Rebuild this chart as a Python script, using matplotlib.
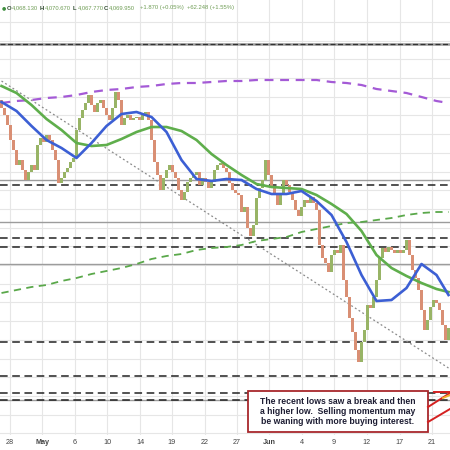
import matplotlib
matplotlib.use("Agg")
import matplotlib.pyplot as plt
from matplotlib.patches import Rectangle
from matplotlib.lines import Line2D
import numpy as np

# ---------------- data ----------------
first_open = 4100
closes = [4084, 4070, 4050, 4020, 4000, 3970, 3980, 3960, 3940, 3956,
          3970, 3960, 4010, 4024, 4016, 4030, 4020, 4000, 3980, 3934,
          3944, 3956, 3964, 3976, 3984, 4040, 4064, 4080, 4094, 4110,
          4090, 4076, 4094, 4100, 4084, 4070, 4060, 4084, 4116, 4100,
          4050, 4064, 4070, 4060, 4064, 4066, 4060, 4070, 4076, 4060,
          4020, 3976, 3950, 3920, 3944, 3960, 3970, 3956, 3944, 3920,
          3900, 3916, 3936, 3944, 3950, 3956, 3930, 3944, 3936, 3924,
          3936, 3960, 3970, 3974, 3964, 3956, 3934, 3920, 3914, 3910,
          3876, 3886, 3844, 3828, 3850, 3904, 3924, 3940, 3980, 3950,
          3926, 3910, 3890, 3910, 3940, 3930, 3916, 3900, 3880, 3868,
          3886, 3900, 3894, 3906, 3894, 3880, 3810, 3784, 3774, 3756,
          3790, 3800, 3794, 3810, 3740, 3706, 3664, 3636, 3600, 3576,
          3616, 3640, 3690, 3684, 3706, 3740, 3784, 3804, 3796, 3806,
          3800, 3794, 3800, 3794, 3800, 3820, 3790, 3760, 3744, 3720,
          3680, 3640, 3660, 3686, 3700, 3694, 3680, 3650, 3620, 3644]

ma_bars = [0, 5, 10, 15, 20, 25, 30, 35, 40, 45, 50, 55, 60, 65, 70, 75,
           80, 85, 90, 95, 100, 105, 110, 115, 120, 125, 130, 135, 140, 145, 149]
purple_ma = [4094, 4098, 4100, 4104, 4106, 4110, 4116, 4120, 4122, 4126,
             4128, 4132, 4134, 4134, 4136, 4138, 4138, 4140, 4140, 4140,
             4140, 4140, 4136, 4134, 4130, 4122, 4118, 4114, 4106, 4098, 4094]
green_dash_ma = [3714, 3720, 3726, 3730, 3738, 3744, 3752, 3758, 3764, 3772,
                 3782, 3788, 3792, 3800, 3804, 3806, 3810, 3818, 3822, 3826,
                 3836, 3842, 3848, 3854, 3856, 3860, 3864, 3870, 3874, 3876, 3876]
green_ma = [4128, 4114, 4090, 4062, 4040, 4014, 4008, 4010, 4022, 4036,
            4046, 4046, 4038, 4020, 3992, 3970, 3950, 3932, 3926, 3924,
            3922, 3910, 3892, 3872, 3838, 3790, 3764, 3748, 3734, 3722, 3716]
blue_ma = [4096, 4078, 4048, 4020, 4004, 3984, 4014, 4048, 4072, 4076,
           4066, 4036, 3980, 3942, 3938, 3942, 3940, 3922, 3912, 3912,
           3918, 3898, 3870, 3816, 3750, 3698, 3700, 3724, 3772, 3750, 3710]

trend_bars = [0, 149]
trend_vals = [4138, 3564]

top_level = 4212
solid_levels = [3940, 3856, 3772, 3500]
dashed_levels = [3930, 3824, 3806, 3616, 3548, 3514, 3500]

tick_pos = [2.8, 13.5, 24.5, 35.2, 46.2, 56.8, 67.8, 78.5, 89.2, 100.2,
            110.8, 121.8, 132.8, 143.5]
tick_labels = ["28", "May", "6", "10", "14", "19", "22", "27", "Jun", "4",
               "9", "12", "17", "21"]
bold_labels = ["May", "Jun"]

header = [("O", "4,068.130"), ("H", "4,070.670"), ("L", "4,067.770"), ("C", "4,069.950")]
header_changes = ["+1.870 (+0.05%)", "+62.248 (+1.55%)"]

note = ("The recent lows saw a break and then\n"
        "a higher low.  Selling momentum may\n"
        "be waning with more buying interest.")

# ---------------- figure ----------------
W = H = 450
fig = plt.figure(figsize=(4.5, 4.5), dpi=100)
ax = fig.add_axes([0, 15 / H, 1, 435 / H])
ax.set_xlim(-0.5, len(closes) - 0.5)
ax.set_ylim(3430, 4300)
for s in ax.spines.values():
    s.set_visible(False)

# grid
ax.set_yticks(np.arange(4256, 3430, -37.4))
ax.set_xticks(tick_pos)
ax.grid(True, color="#e6e6e6", lw=0.8, zorder=0)
ax.tick_params(axis="y", left=False, labelleft=False)
ax.tick_params(axis="x", length=0, pad=3, labelsize=5.2, labelcolor="#444444")
ax.set_xticklabels(tick_labels, family="Liberation Sans")
for lab in ax.get_xticklabels():
    if lab.get_text() in bold_labels:
        lab.set_fontweight("bold")

# horizontal levels
ax.axhline(top_level, color="#9a9a9a", lw=1.8, zorder=2)
ax.axhline(top_level, color="#333333", lw=0.9, ls=(0, (4, 2)), zorder=2)
for lv in solid_levels:
    ax.axhline(lv, color="#9c9c9c", lw=1.0, zorder=2)
for lv in dashed_levels:
    ax.axhline(lv, color="#222222", lw=1.1, ls=(0, (5, 3)), zorder=3)

# trend line
ax.plot(trend_bars, trend_vals, color="#8a8a8a", lw=0.9, ls=(0, (1.5, 2.0)), zorder=3)

# candles
opens = [first_open] + closes[:-1]
x = np.arange(len(closes))
up = [c >= o for o, c in zip(opens, closes)]
cols = ["#98b466" if u else "#d98f74" for u in up]
heights = [c - o for o, c in zip(opens, closes)]
ax.bar(x, heights, bottom=opens, width=0.7, color=cols, lw=0, zorder=4)

# moving averages
ax.plot(ma_bars, purple_ma, color="#a45ad6", lw=1.6, ls=(0, (4, 3)), zorder=5)
ax.plot(ma_bars, green_dash_ma, color="#5aa84a", lw=1.3, ls=(0, (4, 3)), zorder=5)
ax.plot(ma_bars, green_ma, color="#5fae4c", lw=1.9, zorder=6)
ax.plot(ma_bars, blue_ma, color="#3c5fd4", lw=1.9, zorder=7)

# header text
hy = 1 - 8 / H
fig.text(2 / W, hy, "\u25CF", fontsize=3.5, color="#3e8e3e", va="center", family="DejaVu Sans")
hx = [7, 40, 73, 104]
for px, (letter, val) in zip(hx, header):
    fig.text(px / W, hy, letter, fontsize=4.2, va="center", family="Liberation Sans",
             color="#2e4a2e", fontweight="bold")
    fig.text((px + 5) / W, hy, val, fontsize=4.2, va="center", family="Liberation Sans",
             color="#6f9d55")
for px, t in zip([140, 187], header_changes):
    fig.text(px / W, hy, t, fontsize=4.2, va="center", family="Liberation Sans", color="#6f9d55")

# annotation box
box = Rectangle((248 / W, 1 - 432 / H), 180 / W, 41 / H, transform=fig.transFigure,
                facecolor="white", edgecolor="#a8282c", lw=1.3, zorder=10)
fig.add_artist(box)
fig.text(338 / W, 1 - 411.5 / H, note, ha="center", va="center", fontsize=6.2,
         fontweight="bold", family="Liberation Sans", color="#1d1d33",
         linespacing=1.2, zorder=11)

# red pointer lines
for (x0, y0, x1, y1) in [(428, 407, 450, 393), (428, 422, 450, 409), (434, 392, 450, 392)]:
    fig.add_artist(Line2D([x0 / W, x1 / W], [1 - y0 / H, 1 - y1 / H],
                          transform=fig.transFigure, color="#d42020", lw=1.4, zorder=12))
fig.add_artist(Line2D([443 / W, 450 / W], [1 - 398 / H, 1 - 395 / H],
                      transform=fig.transFigure, color="#f2b430", lw=1.4, zorder=12))

fig.savefig("out.png", dpi=100)
